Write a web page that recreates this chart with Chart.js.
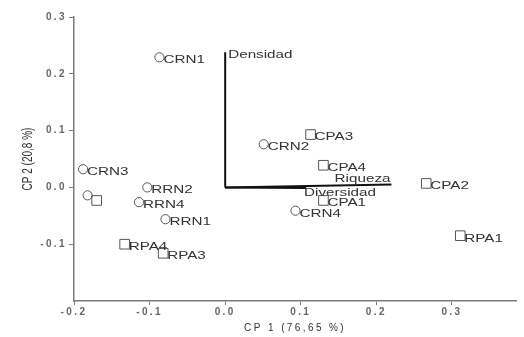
<!DOCTYPE html>
<html>
<head>
<meta charset="utf-8">
<script src="https://cdn.jsdelivr.net/npm/chart.js@4/dist/chart.umd.min.js"></script>
<style>
  html, body { margin: 0; padding: 0; background: #fff; }
  #wrap { width: 524px; height: 337px; }
</style>
</head>
<body>
<div id="wrap"><canvas id="c" width="524" height="337"></canvas></div>
<script>
// Sites drawn as circles (RN) and squares (PA)
const circleNames = ['CRN1', 'CRN2', 'CRN3', 'CRN4', 'RRN1', 'RRN2', 'RRN4', ''];
const circleX = [-0.087, 0.051, -0.188, 0.093, -0.079, -0.103, -0.114, -0.182];
const circleY = [0.229, 0.076, 0.032, -0.041, -0.056, 0.000, -0.026, -0.014];

const squareNames = ['CPA1', 'CPA2', 'CPA3', 'CPA4', 'RPA1', 'RPA3', 'RPA4', ''];
const squareX = [0.130, 0.266, 0.113, 0.130, 0.311, -0.082, -0.133, -0.170];
const squareY = [-0.023, 0.007, 0.093, 0.039, -0.085, -0.116, -0.100, -0.023];

// Variable vectors from the origin
const varNames = ['Densidad', 'Riqueza', 'Diversidad'];
const varX = [0.000, 0.220, 0.107];
const varY = [0.238, 0.005, -0.001];

// Axis ticks
const xTicks = [-0.2, -0.1, 0.0, 0.1, 0.2, 0.3];
const yTicks = [-0.1, 0.0, 0.1, 0.2, 0.3];

const TEXT = '#333';
const AXIS = '#7a7a7a';
const FONT = '"Liberation Sans", Arial, sans-serif';
const SX = 1.45; // horizontal widening of label glyphs

function toPoints(xs, ys) {
  return xs.map((x, i) => ({ x: x, y: ys[i] }));
}

function wideText(ctx, text, x, y, align, baseline) {
  ctx.save();
  ctx.translate(x, y);
  ctx.scale(SX, 1);
  ctx.textAlign = align;
  ctx.textBaseline = baseline || 'middle';
  ctx.fillText(text, 0, 0);
  ctx.restore();
}

const labelPlugin = {
  id: 'labels',
  beforeDraw(chart) {
    chart.ctx.letterSpacing = '2.4px';
  },
  afterDatasetsDraw(chart) {
    const ctx = chart.ctx;
    const xs = chart.scales.x, ys = chart.scales.y;
    ctx.save();
    ctx.letterSpacing = '0px';
    ctx.fillStyle = TEXT;
    ctx.font = '10.5px ' + FONT;
    circleNames.forEach((n, i) => {
      if (!n) return;
      wideText(ctx, n, xs.getPixelForValue(circleX[i]) + 4, ys.getPixelForValue(circleY[i]) + 3, 'left');
    });
    squareNames.forEach((n, i) => {
      if (!n) return;
      wideText(ctx, n, xs.getPixelForValue(squareX[i]) + 4, ys.getPixelForValue(squareY[i]) + 3, 'left');
    });
    // vector names at their tips
    const px = varX.map(v => xs.getPixelForValue(v));
    const py = varY.map(v => ys.getPixelForValue(v));
    wideText(ctx, varNames[0], px[0] + 3, py[0] + 3, 'left');
    wideText(ctx, varNames[1], px[1] - 1, py[1] - 5, 'right');
    wideText(ctx, varNames[2], px[2] - 2, py[2] + 5, 'left');

    // y-axis title, rotated
    ctx.translate(28, (chart.chartArea.top + chart.chartArea.bottom) / 2);
    ctx.rotate(-Math.PI / 2);
    ctx.scale(1, SX);
    ctx.font = '10px ' + FONT;
    ctx.textAlign = 'center';
    ctx.textBaseline = 'middle';
    ctx.fillText('CP 2 (20,8 %)', 0, 0);
    ctx.restore();
  }
};

const vectorSets = varNames.map((n, i) => ({
  label: n,
  data: [{ x: 0, y: 0 }, { x: varX[i], y: varY[i] }],
  showLine: true,
  pointRadius: 0,
  borderColor: '#111',
  borderWidth: 2,
  fill: false
}));

new Chart(document.getElementById('c'), {
  type: 'scatter',
  data: {
    datasets: [
      ...vectorSets,
      {
        label: 'RN',
        data: toPoints(circleX, circleY),
        pointStyle: 'circle',
        pointRadius: 4.6,
        backgroundColor: 'rgba(0,0,0,0)',
        borderColor: '#555',
        borderWidth: 1
      },
      {
        label: 'PA',
        data: toPoints(squareX, squareY),
        pointStyle: 'rect',
        pointRadius: 6.8,
        backgroundColor: 'rgba(0,0,0,0)',
        borderColor: '#555',
        borderWidth: 1
      }
    ]
  },
  options: {
    responsive: false,
    animation: false,
    events: [],
    layout: { padding: { left: 0, right: 1, top: 17, bottom: 0 } },
    plugins: { legend: { display: false }, tooltip: { enabled: false } },
    scales: {
      x: {
        type: 'linear',
        min: -0.2,
        max: 0.385,
        afterFit(s) { s.height = 36; },
        afterBuildTicks(s) { s.ticks = xTicks.map(v => ({ value: v })); },
        ticks: {
          color: '#666',
          font: { family: FONT, size: 10, weight: 'bold' },
          padding: 1,
          maxRotation: 0,
          callback: v => v.toFixed(1)
        },
        grid: { drawOnChartArea: false, drawTicks: true, tickLength: 4, color: AXIS, lineWidth: 1 },
        border: { display: true, color: AXIS, width: 1.5 },
        title: {
          display: true,
          text: 'CP 1 (76,65 %)',
          color: TEXT,
          font: { family: FONT, size: 10 },
          padding: { top: 0, bottom: 3 }
        }
      },
      y: {
        type: 'linear',
        min: -0.2,
        max: 0.3,
        afterFit(s) { s.width = 74; },
        afterBuildTicks(s) { s.ticks = yTicks.map(v => ({ value: v })); },
        ticks: {
          color: '#666',
          font: { family: FONT, size: 10, weight: 'bold' },
          padding: 2,
          callback: v => v.toFixed(1)
        },
        grid: { drawOnChartArea: false, drawTicks: true, tickLength: 5, color: AXIS, lineWidth: 1 },
        border: { display: true, color: AXIS, width: 1.5 }
      }
    }
  },
  plugins: [labelPlugin]
});
</script>
</body>
</html>
